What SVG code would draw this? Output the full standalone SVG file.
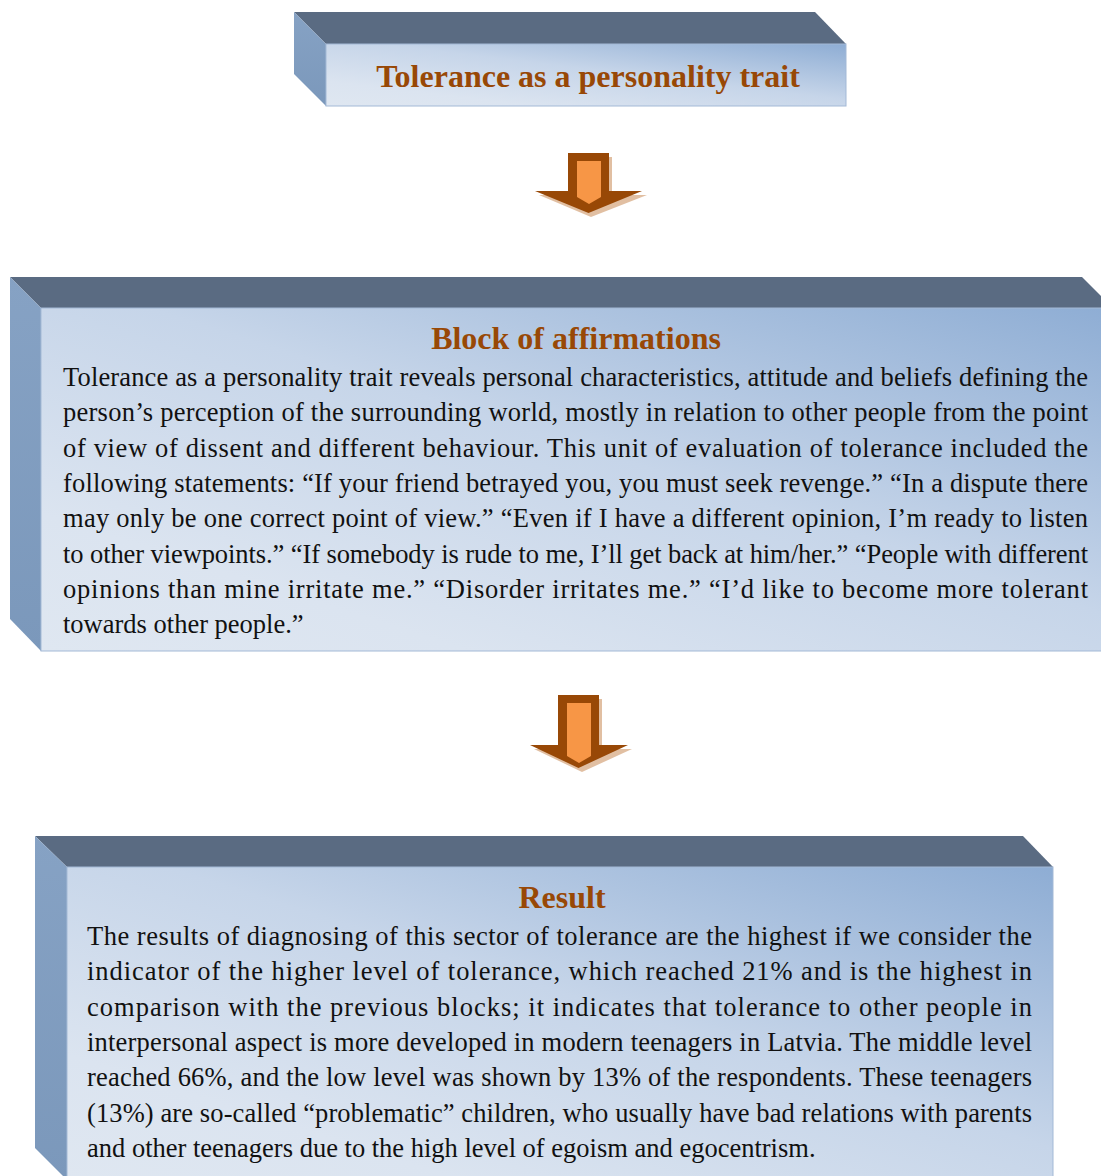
<svg xmlns="http://www.w3.org/2000/svg" width="1101" height="1176" viewBox="0 0 1101 1176">
<defs>
<linearGradient id="front" x1="1" y1="0" x2="0" y2="1">
<stop offset="0" stop-color="#8eadd4"/>
<stop offset="0.45" stop-color="#c6d5e9"/>
<stop offset="0.8" stop-color="#dbe4f0"/>
<stop offset="1" stop-color="#dfe7f1"/>
</linearGradient>
<linearGradient id="side" x1="0" y1="0" x2="0" y2="1">
<stop offset="0" stop-color="#86a2c4"/>
<stop offset="1" stop-color="#7b98bb"/>
</linearGradient>
<style>
.top{fill:#5a6b82;}
.side{fill:url(#side);}
.front{fill:url(#front);stroke:#a3b9d6;stroke-width:1;}
.title{font-family:"Liberation Serif","Times New Roman",serif;font-weight:bold;font-size:32px;fill:#984806;text-anchor:middle;}
.body{font-family:"Liberation Serif","Times New Roman",serif;font-size:26.5px;fill:#111111;}
.arrowOut{fill:#984806;}
.arrowIn{fill:#f79646;}
.arrowSh{fill:#c98a55;opacity:0.55;}
</style>
</defs>

<g id="node-trait">
<polygon class="top" points="294,12 815,12 846,44 326,44"/>
<polygon class="side" points="294,12 326,44 326,106 294,74"/>
<rect class="front" x="326" y="44" width="520" height="62"/>
<text class="title" x="588" y="87">Tolerance as a personality trait</text>
</g>

<g id="connectors">
<g id="arrow-1">
<polygon class="arrowSh" points="571,157 612,157 612,195 647,195 591,217 539,195 571,195"/>
<polygon class="arrowOut" points="568,153 609,153 609,191 642,191 588.5,213 535,191 568,191"/>
<polygon class="arrowIn" points="577,161 601,161 601,197 589,204 577,197"/>
</g>
<g id="arrow-2">
<polygon class="arrowSh" points="561,699 602,699 602,749 632,749 582,772 534,749 561,749"/>
<polygon class="arrowOut" points="558,695 599,695 599,745 628,745 578.5,768 530,745 558,745"/>
<polygon class="arrowIn" points="567,703 591,703 591,756 579,763 567,756"/>
</g>
</g>

<g id="node-affirmations">
<polygon class="top" points="10,277 1082,277 1113,308 41,308"/>
<polygon class="side" points="10,277 41,308 41,651 10,619"/>
<rect class="front" x="41" y="308" width="1072" height="343"/>
<text class="title" x="576" y="349">Block of affirmations</text>
<text class="body" x="63" y="386" textLength="1025" lengthAdjust="spacing">Tolerance as a personality trait reveals personal characteristics, attitude and beliefs defining the</text>
<text class="body" x="63" y="421.3" textLength="1025" lengthAdjust="spacing">person’s perception of the surrounding world, mostly in relation to other people from the point</text>
<text class="body" x="63" y="456.6" textLength="1025" lengthAdjust="spacing">of view of dissent and different behaviour. This unit of evaluation of tolerance included the</text>
<text class="body" x="63" y="491.9" textLength="1025" lengthAdjust="spacing">following statements: “If your friend betrayed you, you must seek revenge.” “In a dispute there</text>
<text class="body" x="63" y="527.2" textLength="1025" lengthAdjust="spacing">may only be one correct point of view.” “Even if I have a different opinion, I’m ready to listen</text>
<text class="body" x="63" y="562.5" textLength="1025" lengthAdjust="spacing">to other viewpoints.” “If somebody is rude to me, I’ll get back at him/her.” “People with different</text>
<text class="body" x="63" y="597.8" textLength="1025" lengthAdjust="spacing">opinions than mine irritate me.” “Disorder irritates me.” “I’d like to become more tolerant</text>
<text class="body" x="63" y="633.1">towards other people.”</text>
</g>

<g id="node-result">
<polygon class="top" points="35,836 1023,836 1053,867 67,867"/>
<polygon class="side" points="35,836 67,867 67,1180 35,1148"/>
<rect class="front" x="67" y="867" width="986" height="313"/>
<text class="title" x="562" y="908">Result</text>
<text class="body" x="87" y="945" textLength="945" lengthAdjust="spacing">The results of diagnosing of this sector of tolerance are the highest if we consider the</text>
<text class="body" x="87" y="980.3" textLength="945" lengthAdjust="spacing">indicator of the higher level of tolerance, which reached 21% and is the highest in</text>
<text class="body" x="87" y="1015.6" textLength="945" lengthAdjust="spacing">comparison with the previous blocks; it indicates that tolerance to other people in</text>
<text class="body" x="87" y="1050.9" textLength="945" lengthAdjust="spacing">interpersonal aspect is more developed in modern teenagers in Latvia. The middle level</text>
<text class="body" x="87" y="1086.2" textLength="945" lengthAdjust="spacing">reached 66%, and the low level was shown by 13% of the respondents. These teenagers</text>
<text class="body" x="87" y="1121.5" textLength="945" lengthAdjust="spacing">(13%) are so-called “problematic” children, who usually have bad relations with parents</text>
<text class="body" x="87" y="1156.8">and other teenagers due to the high level of egoism and egocentrism.</text>
</g>
</svg>
